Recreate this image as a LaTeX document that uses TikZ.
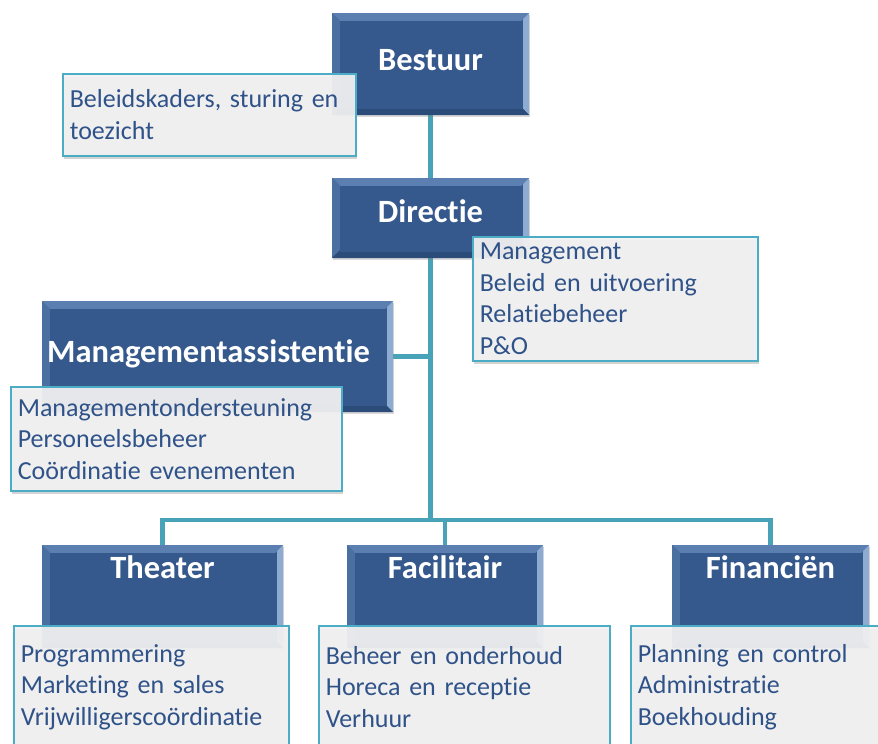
\documentclass[tikz,border=0pt]{standalone}
\usepackage{fontspec}
\setmainfont{Carlito}[Ligatures=NoCommon]
\usepackage{xcolor}
\usepackage{tikz}
\usetikzlibrary{shadows,backgrounds}
\definecolor{boxblue}{HTML}{35598C}
\definecolor{bevtop}{HTML}{5B7FB0}
\definecolor{bevleft}{HTML}{4A6FA1}
\definecolor{bevright}{HTML}{8EACD1}
\definecolor{bevbot}{HTML}{2B4B78}
\definecolor{listline}{HTML}{4BACC6}
\definecolor{listfill}{HTML}{F2F2F3}
\definecolor{listtext}{HTML}{2F5288}
\definecolor{conn}{HTML}{48A3B9}

\begin{document}
\begin{tikzpicture}[x=1pt,y=-1pt,
                    bevel/.style={path picture={
                      \path (path picture bounding box.north west) coordinate (pnw)
                            (path picture bounding box.south east) coordinate (pse);
                      \fill[bevtop] (pnw) -- (pnw -| pse) -- ([shift={(-8pt,-8pt)}]pnw -| pse)
                                    -- ([shift={(8pt,-8pt)}]pnw) -- cycle;
                      \fill[bevleft] (pnw) -- ([shift={(8pt,-8pt)}]pnw)
                                    -- ([shift={(8pt,8pt)}]pse -| pnw) -- (pse -| pnw) -- cycle;
                      \fill[bevright] (pnw -| pse) -- ([shift={(-6pt,-6pt)}]pnw -| pse)
                                    -- ([shift={(-6pt,6pt)}]pse) -- (pse) -- cycle;
                      \fill[bevbot] (pse -| pnw) -- ([shift={(8pt,8pt)}]pse -| pnw)
                                    -- ([shift={(-6pt,6pt)}]pse) -- (pse) -- cycle;
                      \fill[boxblue] ([shift={(8pt,-8pt)}]pnw) rectangle ([shift={(-6pt,6pt)}]pse);
                    }}]
  \tikzstyle{unit}=[rectangle,fill=boxblue,bevel,text=white,inner sep=0pt,
                    font=\bfseries\fontsize{32.5}{38}\selectfont,text height=22pt,
                    drop shadow={shadow xshift=1pt,shadow yshift=-2pt,opacity=0.3}]
  \tikzstyle{tasks}=[rectangle,draw=listline,line width=1.6pt,fill=listfill,
                    fill opacity=0.92,text opacity=1,text=listtext,anchor=north west,
                    align=left,inner xsep=7pt,inner ysep=0pt,
                    font=\fontsize{26}{31.5}\selectfont,
                    drop shadow={shadow xshift=1pt,shadow yshift=-3pt,opacity=0.35}]
  \useasboundingbox (0,0) rectangle (878,744);

  \node[unit,minimum width=197pt,minimum height=102pt,text depth=10pt] (bestuur)    at (430.5,64)    {Bestuur};
  \node[unit,minimum width=197pt,minimum height=80pt,text depth=14pt]  (directie)   at (430.5,218)   {Directie};
  \node[unit,minimum width=351pt,minimum height=111pt,text depth=11pt] (massist)    at (217.5,356.5) {Managementassistentie\hspace*{18pt}};
  \node[unit,minimum width=241pt,minimum height=103pt,text depth=59pt] (theater)    at (162.5,596.5) {Theater};
  \node[unit,minimum width=196pt,minimum height=103pt,text depth=59pt] (facilitair) at (445,596.5)   {Facilitair};
  \node[unit,minimum width=197pt,minimum height=103pt,text depth=59pt] (financien)  at (770.5,596.5) {Financiën};

  \node[tasks,text width=279pt,minimum height=82pt]  (beleid)    at (62,73)   {Beleidskaders, sturing en\\toezicht};
  \node[tasks,text width=271pt,minimum height=124pt] (dirtaken)  at (472,236) {Management\\Beleid en uitvoering\\Relatiebeheer\\P\&O};
  \node[tasks,text width=317pt,minimum height=104pt] (mataken)   at (10,386)  {Managementondersteuning\\Personeelsbeheer\\Coördinatie evenementen};
  \node[tasks,text width=261pt,minimum height=122pt] (thtaken)   at (13,625)  {Programmering\\Marketing en sales\\Vrijwilligerscoördinatie};
  \node[tasks,text width=277pt,minimum height=122pt] (fataken)   at (318,625) {Beheer en onderhoud\\Horeca en receptie\\Verhuur};
  \node[tasks,text width=246pt,minimum height=122pt] (fitaken)   at (630,625) {Planning en control\\Administratie\\Boekhouding};

  \coordinate (hub) at (430.5,520);
  \begin{scope}[on background layer={draw=conn,line width=4.5pt}]
    \draw (bestuur) -- (directie);
    \draw (directie) -- (hub);
    \draw (directie) |- (massist);
    \draw (hub) -| (theater);
    \draw (hub) -| (facilitair);
    \draw (hub) -| (financien);
  \end{scope}
\end{tikzpicture}
\end{document}
